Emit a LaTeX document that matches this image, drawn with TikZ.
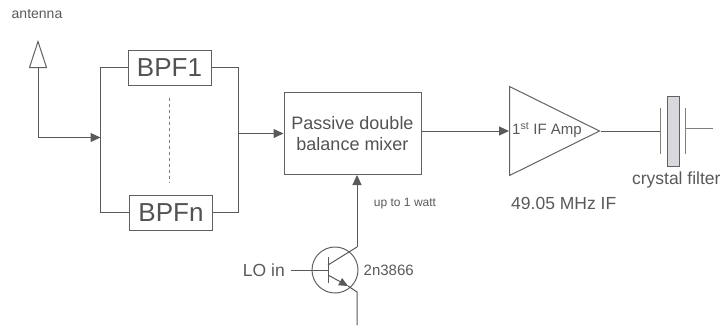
\documentclass[tikz,border=0pt]{standalone}
\usepackage{fontspec}
\setmainfont{Liberation Sans}
\usetikzlibrary{arrows.meta, positioning, shapes.geometric}

\begin{document}
\begin{tikzpicture}[
    x = 1pt, y = 1pt,
    blok/.style = {rectangle, draw=black!62, line width=1pt, inner sep=0pt, text=black!68},
    filt/.style = {blok, minimum width=83pt, minimum height=35pt, font=\fontsize{26}{26}\selectfont},
    tekst/.style = {text=black!65, inner sep=0pt},
    lijn/.style = {black!65, line width=1pt},
    pil/.style = {lijn, -{Triangle[length=10pt,width=9pt]}},
    plaat/.style = {black!50, line width=1pt}
    ]
  \useasboundingbox (0,0) rectangle (722,-325);

  \node[filt] (bpf1) at (169.5,-67.5) {BPF1} ;
  \node[filt] (bpfn) [below=109pt of bpf1, xshift=1.5pt] {BPFn} ;

  \coordinate[left=27pt of bpf1.west] (busl1) ;
  \coordinate[right=27pt of bpf1.east] (busr1) ;
  \coordinate[below=70pt of busl1] (busin) ;
  \coordinate[below=66pt of busr1] (busout) ;

  \node[isosceles triangle, isosceles triangle stretches, shape border rotate=90,
        draw=black!62, line width=1pt, minimum width=17pt, minimum height=26pt,
        inner sep=0pt, anchor=lower side] (ant) at (38,-68) {} ;
  \node[tekst, font=\fontsize{14}{14}\selectfont] (antlabel) [above=21pt of ant.apex, xshift=-1pt] {antenna} ;

  \node[blok, minimum width=137pt, minimum height=82pt, align=center,
        font=\fontsize{18}{21}\selectfont] (mixer) [right=45pt of busout] {Passive double\\balance mixer} ;

  \node[isosceles triangle, isosceles triangle stretches, draw=black!62, line width=1pt,
        minimum width=89pt, minimum height=90pt, inner sep=0pt, anchor=lower side] (amp) at (509,-131) {} ;
  \node[tekst, font=\fontsize{15}{15}\selectfont] (amplabel) at (547,-130) {1\textsuperscript{st} IF Amp} ;
  \node[tekst, font=\fontsize{17.5}{18}\selectfont] (iflabel) [below=21pt of amp.right corner, anchor=north west, xshift=2pt] {49.05 MHz IF} ;

  \node[rectangle, draw=black!62, fill=blue!10!black!15, line width=1pt, minimum width=12pt,
        minimum height=70pt, inner sep=0pt] (xtal) [right=66pt of amp.apex] {} ;
  \coordinate[left=6pt of xtal.west] (platl) ;
  \coordinate[right=6pt of xtal.east, yshift=3pt] (platr) ;
  \coordinate[right=27pt of platr] (xout) ;
  \node[tekst, font=\fontsize{17.5}{18}\selectfont] (xlabel) [below=5pt of xtal, xshift=3pt] {crystal filter} ;

  \node[circle, draw=black!62, line width=1pt, minimum size=46pt, inner sep=0pt] (q1) at (335,-270) {} ;
  \coordinate (qbase) at ([xshift=-7pt]q1.center) ;
  \coordinate[above=13pt of qbase] (qbar1) ;
  \coordinate[below=13pt of qbase] (qbar2) ;
  \coordinate[above=5pt of qbase] (qb1) ;
  \coordinate[below=5pt of qbase] (qb2) ;
  \coordinate (qcol) at ([shift={(22,23)}]q1.center) ;
  \coordinate (qemi) at ([shift={(22,-22)}]q1.center) ;
  \coordinate (qtip) at ([shift={(13,-16)}]q1.center) ;
  \coordinate (qgnd) at (qemi |- 0,-325) ;
  \coordinate[left=44pt of q1.center] (lo) ;
  \node[tekst, font=\fontsize{17.5}{18}\selectfont] (lolabel) [left=6pt of lo] {LO in} ;
  \node[tekst, font=\fontsize{15}{15}\selectfont] (qlabel) [right=5pt of q1] {2n3866} ;
  \node[tekst, font=\fontsize{12}{12}\selectfont] (wlabel) at (405,-204) {up to 1 watt} ;

  % filter bank
  \draw[lijn] (bpf1.west) -- (busl1) -- (busl1 |- bpfn.west) -- (bpfn.west) ;
  \draw[lijn] (bpf1.east) -- (busr1) -- (busr1 |- bpfn.east) -- (bpfn.east) ;
  \draw[black!50, line width=1pt, dashed, shorten >=12pt, shorten <=12pt] (bpf1.south) -- (bpf1.south |- bpfn.north) ;

  \draw[pil] (ant.lower side) -- (ant.lower side |- busin) -- (busin) ;
  \draw[pil] (busout) -- (busout -| mixer.west) ;
  \draw[pil] (mixer.east |- amp.lower side) -- (amp.lower side) ;

  % crystal
  \draw[lijn] (amp.apex) -- (platl) ;
  \draw[plaat] ([yshift=23pt]platl) -- ([yshift=-23pt]platl) ;
  \draw[plaat] ([yshift=20pt]platr) -- ([yshift=-26pt]platr) ;
  \draw[plaat] (platr) -- (xout) ;

  % transistor
  \draw[lijn] (lo) -- (qbase) ;
  \draw[lijn] (qbar1) -- (qbar2) ;
  \draw[pil] (qcol) -- (qcol |- mixer.south) ;
  \draw[lijn] (qb1) -- (qcol) ;
  \draw[lijn, -{Triangle[length=9pt,width=8pt]}] (qb2) -- (qtip) ;
  \draw[lijn] (qtip) -- (qemi) -- (qgnd) ;

\end{tikzpicture}
\end{document}
